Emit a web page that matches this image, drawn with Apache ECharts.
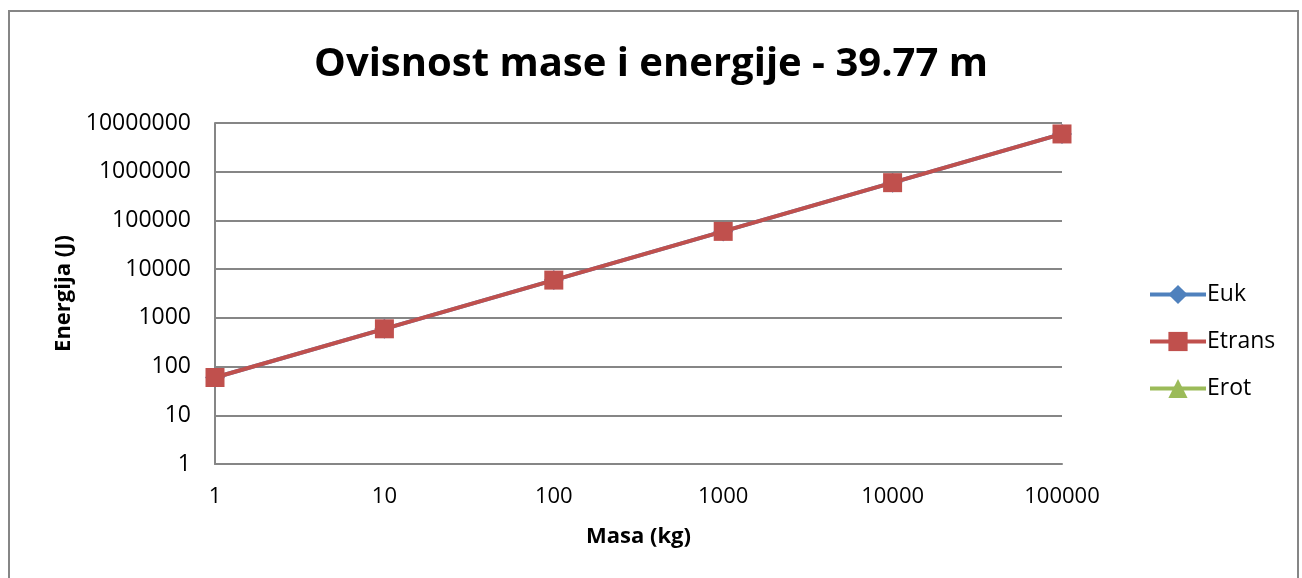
<!DOCTYPE html>
<html>
<head>
<meta charset="utf-8">
<script src="https://cdn.jsdelivr.net/npm/echarts@6/dist/echarts.min.js"></script>
<style>
  html, body { margin: 0; padding: 0; background: #fff; }
  #chart { width: 1302px; height: 578px; }
  #frame {
    position: absolute; left: 8px; top: 10px; width: 1287px; height: 580px;
    border: 2px solid #868686; pointer-events: none;
  }
</style>
</head>
<body>
<div id="chart"></div>
<div id="frame"></div>
<script>
// masses (kg) on the x axis
const masses = ["1", "10", "100", "1000", "10000", "100000"];

// energies (J)
const euk = [59.6, 596, 5960, 59600, 596000, 5960000];
const etrans = [59.6, 596, 5960, 59600, 596000, 5960000];
const erot = [null, null, null, null, null, null];

const chart = echarts.init(document.getElementById("chart"));
const font = "'Open Sans', sans-serif";

const options = {
  animation: false,
  title: {
    text: "Ovisnost mase i energije - 39.77 m",
    left: "center",
    top: 40,
    textStyle: { fontFamily: font, fontWeight: "bold", fontSize: 40, color: "#000" },
  },
  legend: {
    orient: "vertical",
    left: 1143,
    top: 278,
    itemWidth: 56,
    itemHeight: 24,
    itemGap: 24,
    lineStyle: { width: 4 },
    textStyle: { fontFamily: font, fontSize: 23, color: "#000", padding: [0, 0, 0, -4] },
    data: ["Euk", "Etrans", "Erot"],
  },
  grid: { left: 215, right: 240, top: 123, bottom: 114 },
  xAxis: {
    type: "category",
    data: masses,
    boundaryGap: false,
    name: "Masa (kg)",
    nameLocation: "middle",
    nameGap: 62,
    nameTextStyle: { fontFamily: font, fontWeight: "bold", fontSize: 22, color: "#000" },
    axisLine: { lineStyle: { color: "#868686", width: 2 } },
    axisTick: { show: false },
    axisLabel: { fontFamily: font, fontSize: 22, color: "#000", margin: 22 },
  },
  yAxis: {
    type: "log",
    logBase: 10,
    min: 1,
    max: 10000000,
    name: "Energija (J)",
    nameLocation: "middle",
    nameGap: 140,
    nameTextStyle: { fontFamily: font, fontWeight: "bold", fontSize: 22, color: "#000" },
    axisLine: { show: true, lineStyle: { color: "#868686", width: 2 } },
    axisTick: { show: false },
    axisLabel: {
      fontFamily: font, fontSize: 23, color: "#000", margin: 24,
      formatter: (v) => String(Math.round(v)),
    },
    splitLine: { lineStyle: { color: "#868686", width: 2 } },
    minorTick: { show: false },
  },
  series: [
    {
      name: "Euk",
      type: "line",
      data: euk,
      symbol: "diamond",
      symbolSize: 20,
      lineStyle: { width: 4, color: "#4F81BD" },
      itemStyle: { color: "#4F81BD" },
    },
    {
      name: "Etrans",
      type: "line",
      data: etrans,
      symbol: "rect",
      symbolSize: 19,
      lineStyle: { width: 4, color: "#C0504D" },
      itemStyle: { color: "#C0504D" },
    },
    {
      name: "Erot",
      type: "line",
      data: erot,
      symbol: "triangle",
      symbolSize: 20,
      lineStyle: { width: 4, color: "#9BBB59" },
      itemStyle: { color: "#9BBB59" },
    },
  ],
};

chart.setOption(options);
</script>
</body>
</html>
